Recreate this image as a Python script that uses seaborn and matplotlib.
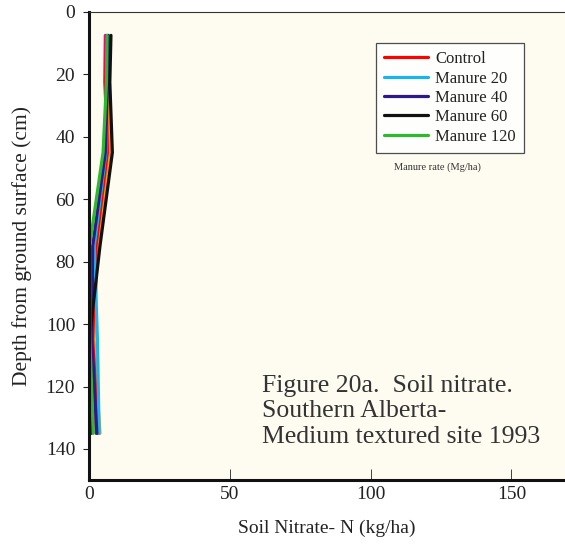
import pandas as pd
import matplotlib.pyplot as plt
import seaborn as sns

# depth of each sampling layer (cm)
depth = [7.5, 22.5, 45, 75, 105, 135]

# soil nitrate-N (kg/ha)
control = [6.2, 6.0, 6.5, 2.5, 1.3, 3.3]
manure20 = [6.6, 6.3, 6.0, 1.9, 3.0, 3.6]
manure40 = [6.8, 6.6, 5.8, 1.3, 1.0, 2.8]
manure60 = [7.8, 7.4, 8.3, 3.9, 0.1, 0.8]
manure120 = [6.4, 6.2, 5.0, 0.2, 0.3, 1.5]
# two extra traces drawn in the figure but missing from the legend
extra_orange = [7.0, 6.8, 7.5, 3.0, 1.8, 3.9]
extra_magenta = [5.8, 5.6, 6.8, 1.6, 1.2, 2.5]

series = [
    ('_magenta', extra_magenta, '#e0109a'),
    ('_orange', extra_orange, '#ff9900'),
    ('Control', control, '#ff0000'),
    ('Manure 20', manure20, '#19b4ec'),
    ('Manure 40', manure40, '#2b1a8c'),
    ('Manure 60', manure60, '#111111'),
    ('Manure 120', manure120, '#2db82d'),
]

sns.set_style('white')
plt.rcParams['font.family'] = ['Liberation Serif', 'DejaVu Serif']

fig = plt.figure(figsize=(5.65, 5.45), dpi=100)
ax = fig.add_axes([0.1575, 0.119, 0.8425, 0.859])
ax.set_facecolor('#fefcf1')

for name, vals, col in series:
    df = pd.DataFrame({'nitrate': vals, 'depth': depth})
    sns.lineplot(data=df, x='nitrate', y='depth', orient='y', sort=False,
                 color=col, linewidth=2.3, label=name, ax=ax)

ax.set_xlim(0, 169)
ax.set_ylim(150, 0)
ax.set_xticks([0, 50, 100, 150])
ax.set_yticks([0, 20, 40, 60, 80, 100, 120, 140])
ax.tick_params(axis='both', labelsize=14, colors='#222222')
ax.tick_params(axis='y', direction='out', length=4, width=0.8, left=True, pad=6)
ax.tick_params(axis='x', direction='in', length=8, width=0.6, bottom=True, pad=4)

for s in ['left', 'bottom']:
    ax.spines[s].set_linewidth(2.2)
    ax.spines[s].set_color('#111111')
ax.spines['top'].set_linewidth(0.8)
ax.spines['top'].set_color('#333333')
ax.spines['right'].set_visible(False)

ax.set_xlabel('Soil Nitrate- N (kg/ha)', fontsize=14, labelpad=12, color='#222222')
ax.set_ylabel('Depth from ground surface (cm)', fontsize=15.5, labelpad=10, color='#222222')

handles, labels = ax.get_legend_handles_labels()
keep = [(h, l) for h, l in zip(handles, labels) if not l.startswith('_')]
leg = ax.legend([h for h, l in keep], [l for h, l in keep],
                loc='upper left', bbox_to_anchor=(0.603, 0.934), borderaxespad=0,
                fontsize=12, frameon=True, fancybox=False,
                edgecolor='#222222', handlelength=2.6, handletextpad=0.45,
                labelspacing=0.2, borderpad=0.5)
leg.get_frame().set_linewidth(0.9)
leg.get_frame().set_facecolor('white')
for t in leg.get_texts():
    t.set_color('#222222')

ax.text(0.731, 0.669, 'Manure rate (Mg/ha)', transform=ax.transAxes,
        fontsize=7.5, ha='center', va='center', color='#333333')

ax.text(0.363, 0.147, 'Figure 20a.  Soil nitrate.\nSouthern Alberta-\nMedium textured site 1993',
        transform=ax.transAxes, fontsize=18.5, ha='left', va='center',
        color='#333333', linespacing=1.2)

fig.savefig('out.png', dpi=100)
